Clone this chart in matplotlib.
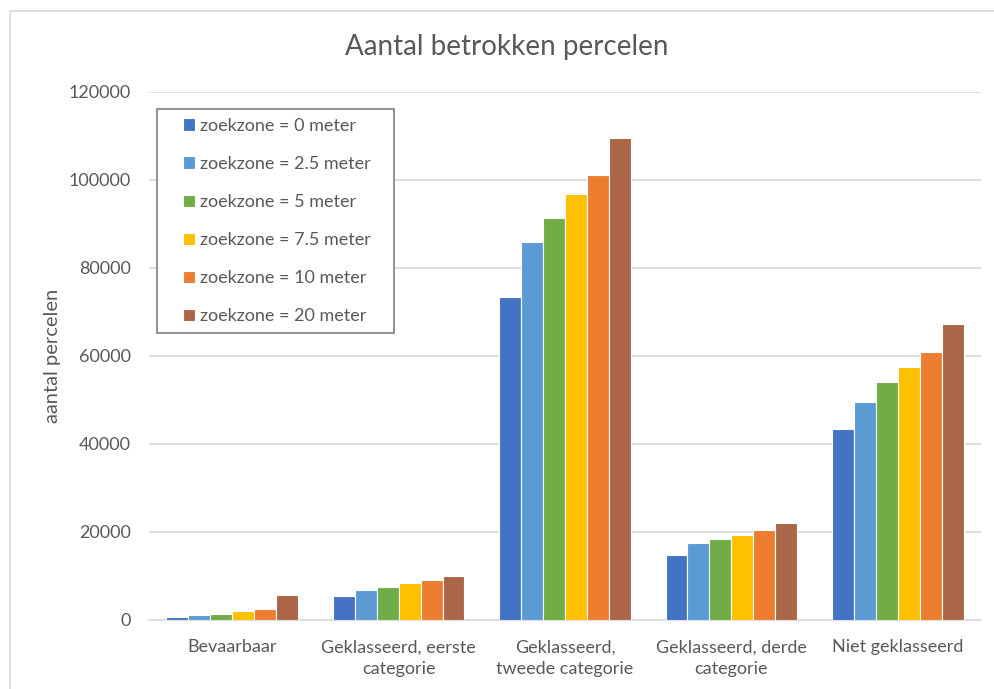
import matplotlib.pyplot as plt
import matplotlib.patches as mpatches
import numpy as np

plt.rcParams['font.family'] = ['Lato', 'DejaVu Sans']

categories = ["Bevaarbaar", "Geklasseerd, eerste\ncategorie", "Geklasseerd,\ntweede categorie",
              "Geklasseerd, derde\ncategorie", "Niet geklasseerd"]
series_names = ["zoekzone = 0 meter", "zoekzone = 2.5 meter", "zoekzone = 5 meter",
                "zoekzone = 7.5 meter", "zoekzone = 10 meter", "zoekzone = 20 meter"]

# one list per zoekzone, values per category
zone_0 = [600, 5400, 73500, 14700, 43300]
zone_2_5 = [1100, 6800, 85900, 17500, 49600]
zone_5 = [1300, 7500, 91400, 18500, 54000]
zone_7_5 = [2100, 8300, 96900, 19400, 57600]
zone_10 = [2500, 9000, 101200, 20500, 61000]
zone_20 = [5600, 10000, 109600, 22100, 67300]
series = [zone_0, zone_2_5, zone_5, zone_7_5, zone_10, zone_20]

colors = ["#4472C4", "#5B9BD5", "#70AD47", "#FFC000", "#ED7D31", "#AB6648"]
text_color = "#595959"
grid_color = "#D9D9D9"

W, H = 994, 689
fig = plt.figure(figsize=(W / 100, H / 100), dpi=100)
ax = fig.add_axes([149 / W, 1 - 620 / H, (981 - 149) / W, (620 - 92) / H])

x = np.arange(len(categories))
width = 0.132
for i, (vals, c) in enumerate(zip(series, colors)):
    ax.bar(x + (i - 2.5) * width, vals, width=width, color=c, edgecolor="white",
           linewidth=0.8, label=series_names[i], zorder=3)

ax.set_xlim(-0.5, len(categories) - 0.5)
ax.set_ylim(0, 120000)
ax.set_yticks(np.arange(0, 120001, 20000))
ax.set_xticks(x, categories)
for lbl in ax.get_xticklabels():
    lbl.set_linespacing(1.45)
ax.grid(axis="y", color=grid_color, linewidth=1.2)
ax.set_axisbelow(True)
for s in ["top", "right", "left"]:
    ax.spines[s].set_visible(False)
ax.spines["bottom"].set_color(grid_color)
ax.spines["bottom"].set_linewidth(1.2)
ax.tick_params(axis="both", length=0, labelsize=13, colors=text_color)
ax.tick_params(axis="y", pad=13)
ax.tick_params(axis="x", pad=14)

ax.set_ylabel("aantal percelen", fontsize=14.5, color=text_color)
ax.yaxis.set_label_coords((53 - 149) / (981 - 149), 0.5)
ax.yaxis.label.set_va("center")

fig.text(507 / W, 1 - 47 / H, "Aantal betrokken percelen", fontsize=20,
         color=text_color, ha="center", va="center")

# outer chart border
fig.patches.append(mpatches.Rectangle((10 / W, -0.1), 1.2, 1 - 11 / H + 0.1,
                                      transform=fig.transFigure, fill=False,
                                      edgecolor=grid_color, linewidth=1.2))

# legend box
fig.patches.append(mpatches.Rectangle((157 / W, 1 - 333 / H), (394 - 157) / W, (333 - 109) / H,
                                      transform=fig.transFigure, facecolor="white",
                                      edgecolor="#7F7F7F", linewidth=1.2, zorder=5))
leg = fig.legend(loc="upper left", bbox_to_anchor=(183 / W, 1 - 118 / H), frameon=False,
                 fontsize=13, handlelength=0.68, handleheight=0.68, handletextpad=0.25,
                 labelspacing=1.22, borderpad=0, borderaxespad=0)
leg.set_zorder(6)
for t in leg.get_texts():
    t.set_color(text_color)

fig.savefig("out.png", dpi=100)
